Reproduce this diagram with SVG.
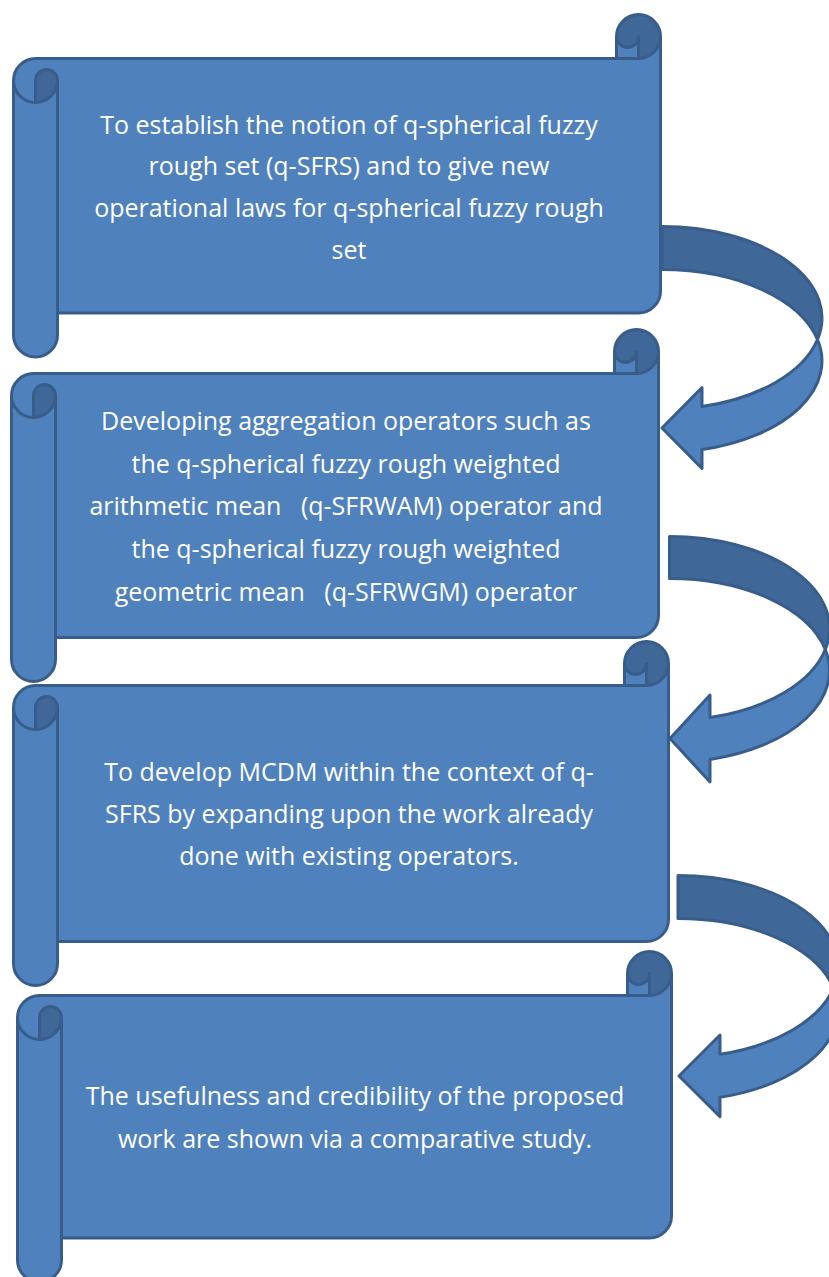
<svg xmlns="http://www.w3.org/2000/svg" width="829" height="1277" viewBox="0 0 829 1277">
<style>
.light{fill:#4F81BD;stroke:none}
.dark{fill:#3F6797;stroke:none}
.line{fill:none;stroke:#385D8A;stroke-width:3;stroke-linejoin:round}
.back{fill:#3F6797;stroke:#385D8A;stroke-width:3;stroke-linejoin:round}
.front{fill:#4F81BD;stroke:#385D8A;stroke-width:3;stroke-linejoin:round}
text{font-family:"Open Sans","Liberation Sans",sans-serif;font-size:25px;fill:#FFFFFF;text-anchor:middle}
</style>
<rect width="829" height="1277" fill="#FFFFFF"/>
<g id="node1">
<path class="light" d="M660.5,36.5 A22,22 0 0 1 638.5,58.5 L638.5,36.5 A11,11 0 0 1 616.5,36.5 L616.5,58.5 L35.5,58.5 A22,22 0 0 0 13.5,80.5 L13.5,335 A22,22 0 0 0 57.5,335 L57.5,313 L638.5,313 A22,22 0 0 0 660.5,291 Z"/>
<path class="dark" d="M35.5,102.5 A22,22 0 0 0 57.5,80.5 A11,11 0 0 0 35.5,80.5 Z M638.5,58.5 A22,22 0 1 0 616.5,36.5 A11,11 0 0 0 638.5,36.5 Z"/>
<path class="line" d="M13.5,80.5 A22,22 0 0 1 35.5,58.5 L616.5,58.5 L616.5,36.5 A22,22 0 0 1 660.5,36.5 L660.5,291 A22,22 0 0 1 638.5,313 L57.5,313 L57.5,335 A22,22 0 0 1 13.5,335 Z M616.5,58.5 L638.5,58.5 A22,22 0 0 0 660.5,36.5 M638.5,58.5 L638.5,36.5 A11,11 0 0 1 616.5,36.5 M35.5,102.5 L35.5,80.5 A11,11 0 0 1 57.5,80.5 A22,22 0 0 1 13.5,80.5 M57.5,80.5 L57.5,313"/>
<text x="349" y="134">To establish the notion of q-spherical fuzzy</text>
<text x="349" y="175">rough set (q-SFRS) and to give new</text>
<text x="349" y="217">operational laws for q-spherical fuzzy rough</text>
<text x="349" y="259">set</text>
</g>
<g id="node2">
<path class="light" d="M658.5,351.5 A22,22 0 0 1 636.5,373.5 L636.5,351.5 A11,11 0 0 1 614.5,351.5 L614.5,373.5 L33.5,373.5 A22,22 0 0 0 11.5,395.5 L11.5,659.5 A22,22 0 0 0 55.5,659.5 L55.5,637.5 L636.5,637.5 A22,22 0 0 0 658.5,615.5 Z"/>
<path class="dark" d="M33.5,417.5 A22,22 0 0 0 55.5,395.5 A11,11 0 0 0 33.5,395.5 Z M636.5,373.5 A22,22 0 1 0 614.5,351.5 A11,11 0 0 0 636.5,351.5 Z"/>
<path class="line" d="M11.5,395.5 A22,22 0 0 1 33.5,373.5 L614.5,373.5 L614.5,351.5 A22,22 0 0 1 658.5,351.5 L658.5,615.5 A22,22 0 0 1 636.5,637.5 L55.5,637.5 L55.5,659.5 A22,22 0 0 1 11.5,659.5 Z M614.5,373.5 L636.5,373.5 A22,22 0 0 0 658.5,351.5 M636.5,373.5 L636.5,351.5 A11,11 0 0 1 614.5,351.5 M33.5,417.5 L33.5,395.5 A11,11 0 0 1 55.5,395.5 A22,22 0 0 1 11.5,395.5 M55.5,395.5 L55.5,637.5"/>
<text x="346" y="430">Developing aggregation operators such as</text>
<text x="346" y="473">the q-spherical fuzzy rough weighted</text>
<text x="346" y="515" xml:space="preserve">arithmetic mean   (q-SFRWAM) operator and</text>
<text x="346" y="558">the q-spherical fuzzy rough weighted</text>
<text x="346" y="601" xml:space="preserve">geometric mean   (q-SFRWGM) operator</text>
</g>
<g id="node3">
<path class="light" d="M668.5,663.5 A22,22 0 0 1 646.5,685.5 L646.5,663.5 A11,11 0 0 1 624.5,663.5 L624.5,685.5 L35.5,685.5 A22,22 0 0 0 13.5,707.5 L13.5,963.5 A22,22 0 0 0 57.5,963.5 L57.5,941.5 L646.5,941.5 A22,22 0 0 0 668.5,919.5 Z"/>
<path class="dark" d="M35.5,729.5 A22,22 0 0 0 57.5,707.5 A11,11 0 0 0 35.5,707.5 Z M646.5,685.5 A22,22 0 1 0 624.5,663.5 A11,11 0 0 0 646.5,663.5 Z"/>
<path class="line" d="M13.5,707.5 A22,22 0 0 1 35.5,685.5 L624.5,685.5 L624.5,663.5 A22,22 0 0 1 668.5,663.5 L668.5,919.5 A22,22 0 0 1 646.5,941.5 L57.5,941.5 L57.5,963.5 A22,22 0 0 1 13.5,963.5 Z M624.5,685.5 L646.5,685.5 A22,22 0 0 0 668.5,663.5 M646.5,685.5 L646.5,663.5 A11,11 0 0 1 624.5,663.5 M35.5,729.5 L35.5,707.5 A11,11 0 0 1 57.5,707.5 A22,22 0 0 1 13.5,707.5 M57.5,707.5 L57.5,941.5"/>
<text x="349" y="781">To develop MCDM within the context of q-</text>
<text x="349" y="823">SFRS by expanding upon the work already</text>
<text x="349" y="865">done with existing operators.</text>
</g>
<g id="node4">
<path class="light" d="M671.5,973.5 A22,22 0 0 1 649.5,995.5 L649.5,973.5 A11,11 0 0 1 627.5,973.5 L627.5,995.5 L39.5,995.5 A22,22 0 0 0 17.5,1017.5 L17.5,1260 A22,22 0 0 0 61.5,1260 L61.5,1238 L649.5,1238 A22,22 0 0 0 671.5,1216 Z"/>
<path class="dark" d="M39.5,1039.5 A22,22 0 0 0 61.5,1017.5 A11,11 0 0 0 39.5,1017.5 Z M649.5,995.5 A22,22 0 1 0 627.5,973.5 A11,11 0 0 0 649.5,973.5 Z"/>
<path class="line" d="M17.5,1017.5 A22,22 0 0 1 39.5,995.5 L627.5,995.5 L627.5,973.5 A22,22 0 0 1 671.5,973.5 L671.5,1216 A22,22 0 0 1 649.5,1238 L61.5,1238 L61.5,1260 A22,22 0 0 1 17.5,1260 Z M627.5,995.5 L649.5,995.5 A22,22 0 0 0 671.5,973.5 M649.5,995.5 L649.5,973.5 A11,11 0 0 1 627.5,973.5 M39.5,1039.5 L39.5,1017.5 A11,11 0 0 1 61.5,1017.5 A22,22 0 0 1 17.5,1017.5 M61.5,1017.5 L61.5,1238"/>
<text x="355" y="1105">The usefulness and credibility of the proposed</text>
<text x="355" y="1148">work are shown via a comparative study.</text>
</g>
<g id="connectors">
<path class="back" d="M662,226.5 A160,91.5 0 0 1 817.5,339.5 A160,91.5 0 0 0 662,269.5 Z"/>
<path class="front" d="M817.5,339.5 A160,91.5 0 0 1 702,406.6 L702,387.5 L662,428 L702,468.5 L702,449.6 A160,91.5 0 0 0 817.5,339.5 Z"/>
<path class="back" d="M669.5,536.5 A160,92 0 0 1 825.3,649.5 A160,92 0 0 0 669.5,578.5 Z"/>
<path class="front" d="M825.3,649.5 A160,92 0 0 1 710,717.5 L710,695 L670,738.5 L710,782 L710,759.5 A160,92 0 0 0 825.3,649.5 Z"/>
<path class="back" d="M678,875.5 A160,91 0 0 1 833.5,988 A160,91 0 0 0 678,918.5 Z"/>
<path class="front" d="M833.5,988 A160,91 0 0 1 720,1054.3 L720,1035 L679,1076 L720,1116.6 L720,1097.3 A160,91 0 0 0 833.5,988 Z"/>
</g>
</svg>
